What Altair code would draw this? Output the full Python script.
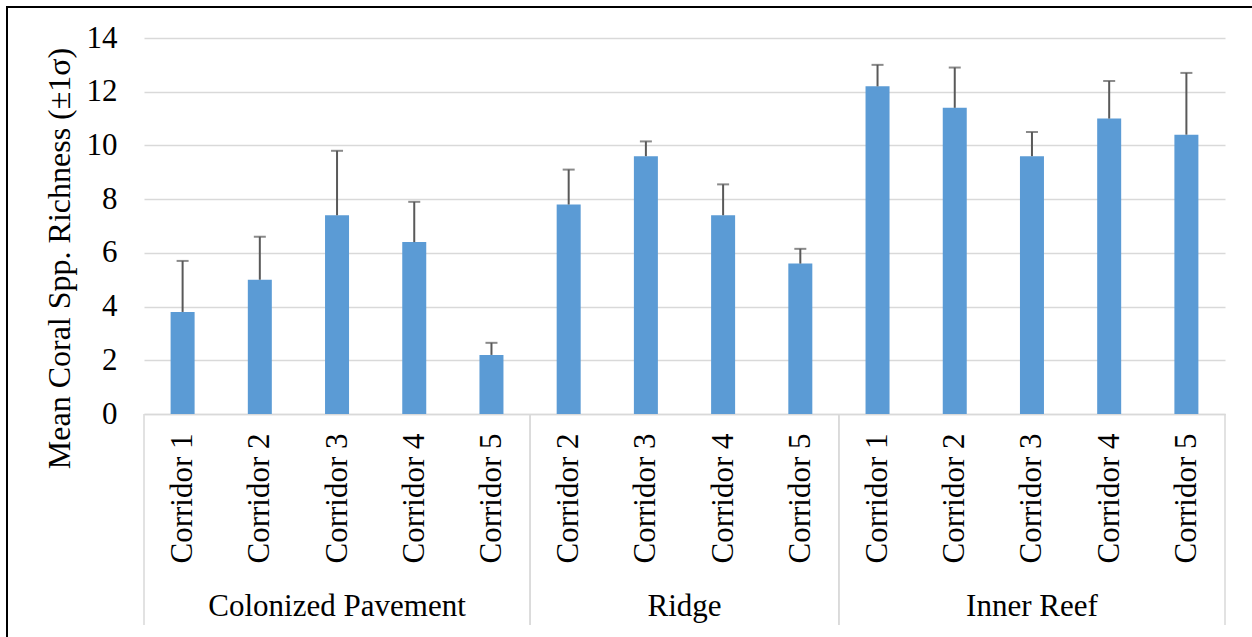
import altair as alt
import pandas as pd

# Sites along the transect, their corridors, mean richness and one standard deviation
groups = ["Colonized Pavement"] * 5 + ["Ridge"] * 4 + ["Inner Reef"] * 5
corridors = [
    "Corridor 1", "Corridor 2", "Corridor 3", "Corridor 4", "Corridor 5",
    "Corridor 2", "Corridor 3", "Corridor 4", "Corridor 5",
    "Corridor 1", "Corridor 2", "Corridor 3", "Corridor 4", "Corridor 5",
]
means = [3.8, 5.0, 7.4, 6.4, 2.2, 7.8, 9.6, 7.4, 5.6, 12.2, 11.4, 9.6, 11.0, 10.4]
sds = [1.9, 1.6, 2.4, 1.5, 0.45, 1.3, 0.55, 1.15, 0.55, 0.8, 1.5, 0.9, 1.4, 2.3]
y_ticks = [0, 2, 4, 6, 8, 10, 12, 14]

df = pd.DataFrame({
    "idx": list(range(len(means))),
    "group": groups,
    "corridor": corridors,
    "mean": means,
    "sd": sds,
})
df["upper"] = df["mean"] + df["sd"]

FONT = "Liberation Serif, DejaVu Serif, serif"
BAR = "#5B9BD5"
ERR = "#595959"
GRID = "#D9D9D9"
W, H = 1081, 376
FS = 31

label_expr = "[" + ",".join(f"'{c}'" for c in corridors) + "][datum.value]"

x_scale = alt.Scale(domain=[-0.5, len(means) - 0.5], nice=False, zero=False, padding=0)
x_enc = alt.X(
    "idx:Q",
    scale=x_scale,
    axis=alt.Axis(
        values=list(range(len(means))),
        labelExpr=label_expr,
        labelAngle=270,
        labelPadding=19,
        labelOverlap=False,
        labelFlush=False,
        ticks=False,
        grid=False,
        domain=True,
        domainColor=GRID,
        domainWidth=1.5,
        title=None,
    ),
)
y_enc = alt.Y(
    "mean:Q",
    scale=alt.Scale(domain=[0, 14], nice=False, padding=0),
    axis=alt.Axis(
        values=y_ticks,
        labelPadding=27,
        ticks=False,
        domain=False,
        grid=True,
        gridColor=GRID,
        gridWidth=1.5,
        title="Mean Coral Spp. Richness (±1σ)",
        titleFontSize=32,
        titlePadding=10,
        titleY=220,
    ),
)

base = alt.Chart(df)

bars = base.mark_bar(color=BAR, size=24).encode(x=x_enc, y=y_enc)

stems = base.mark_rule(color=ERR, strokeWidth=2).encode(
    x="idx:Q", y="mean:Q", y2="upper:Q"
)
caps = base.mark_tick(color=ERR, orient="horizontal", size=12, thickness=2).encode(
    x="idx:Q", y="upper:Q"
)

# Group labels centred under their corridors
group_labels = base.transform_aggregate(
    mid="mean(idx)", groupby=["group"]
).mark_text(
    font=FONT, fontSize=FS, color="black", baseline="alphabetic", align="center"
).encode(x="mid:Q", y=alt.value(578), text="group:N")

# Vertical dividers framing each group below the axis
dividers = base.transform_aggregate(
    lo="min(idx)", hi="max(idx)", groupby=["group"]
).transform_calculate(
    left="datum.lo - 0.5", right="datum.hi + 0.5"
).transform_fold(
    ["left", "right"], as_=["side", "edge"]
).mark_rule(color=GRID, strokeWidth=1.5).encode(
    x="edge:Q", y=alt.value(H), y2=alt.value(587)
)

# Outer black frame
one = pd.DataFrame({"k": [0]})
frame_left = alt.Chart(one).mark_rule(color="black", strokeWidth=2).encode(
    x=alt.value(-137), y=alt.value(-31), y2=alt.value(620)
)
frame_top = alt.Chart(one).mark_rule(color="black", strokeWidth=2).encode(
    x=alt.value(-138), x2=alt.value(1130), y=alt.value(-31)
)

chart = alt.layer(
    bars, stems, caps, group_labels, dividers, frame_left, frame_top
).properties(
    width=W,
    height=H,
    padding={"left": 144, "top": 38, "right": 27, "bottom": 223},
    autosize=alt.AutoSizeParams(type="none"),
).configure(
    background="white",
    font=FONT,
).configure_view(
    strokeOpacity=0,
).configure_axis(
    labelFont=FONT,
    labelFontSize=FS,
    labelColor="black",
    titleFont=FONT,
    titleFontSize=FS,
    titleFontWeight="normal",
    titleColor="black",
).configure_text(
    font=FONT,
)

chart.save("out.html", embed_options={"renderer": "svg", "actions": False})
